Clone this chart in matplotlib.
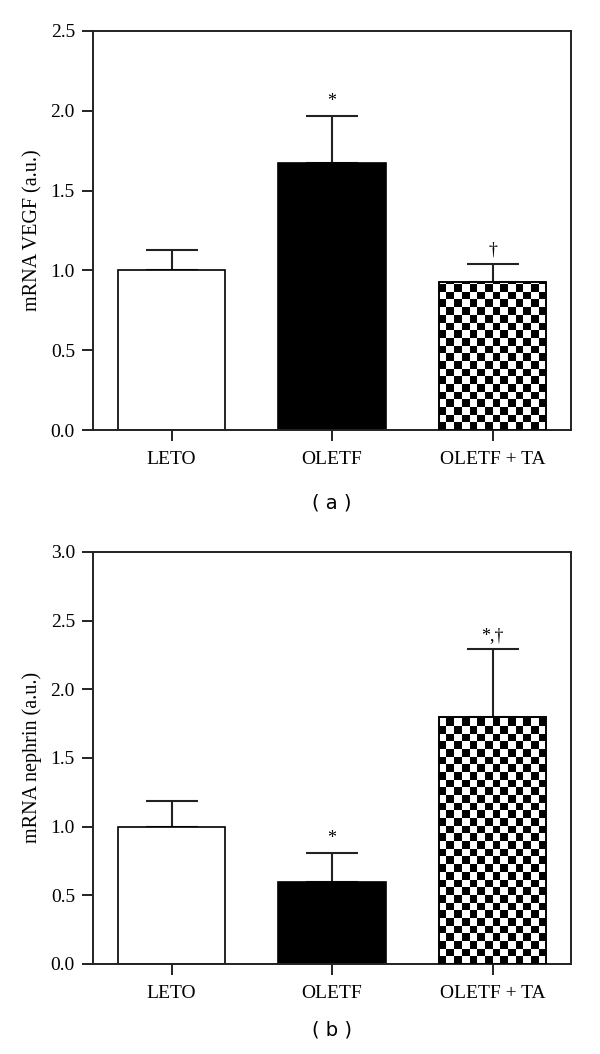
import numpy as np
import matplotlib
matplotlib.use("Agg")
import matplotlib.pyplot as plt
from matplotlib.patches import Rectangle
from matplotlib.collections import PatchCollection

plt.rcParams["font.family"] = ["Liberation Serif", "DejaVu Serif"]

groups = ["LETO", "OLETF", "OLETF + TA"]

vegf_mean = [1.00, 1.67, 0.93]
vegf_err = [0.13, 0.30, 0.11]
vegf_marks = ["", "*", "\u2020"]

nephrin_mean = [1.00, 0.60, 1.80]
nephrin_err = [0.19, 0.21, 0.49]
nephrin_marks = ["", "*", "*,\u2020"]


def checker_fill(ax, bar, ymax, n_cols=14):
    # black squares in a checkerboard, clipped to the bar outline
    x0, w, h = bar.get_x(), bar.get_width(), bar.get_height()
    sq_x = w / n_cols
    sq_px = w / (ax.get_xlim()[1] - ax.get_xlim()[0]) * ax.bbox.width / n_cols
    sq_y = sq_px / ax.bbox.height * ymax
    n_rows = int(np.ceil(h / sq_y))
    rects = []
    for r in range(n_rows):
        for c in range(n_cols):
            if (r + c) % 2 == 0:
                rects.append(Rectangle((x0 + c * sq_x, r * sq_y), sq_x, sq_y))
    pc = PatchCollection(rects, facecolor="black", edgecolor="none",
                         antialiased=False, zorder=2.5)
    ax.add_collection(pc)
    pc.set_clip_path(bar)


def draw_panel(ax, means, errs, marks, ylabel, ymax, yticks, tag, tag_off):
    x = np.arange(len(groups))
    width = 0.67
    ax.set_xlim(-0.49, 2.49)
    ax.set_ylim(0, ymax)
    bars = ax.bar(x, means, width=width, color=["white", "black", "white"],
                  edgecolor="black", linewidth=1.2, zorder=2)
    checker_fill(ax, bars[2], ymax)
    ax.bar(x[2], means[2], width=width, color="none", edgecolor="black",
           linewidth=1.2, zorder=3)

    ax.errorbar(x, means, yerr=[np.zeros(len(errs)), errs], fmt="none",
                ecolor="#222222", elinewidth=1.5, capsize=19, capthick=1.5, zorder=1)

    for xi, m, e, s in zip(x, means, errs, marks):
        if s:
            ax.text(xi, m + e + 0.035 * ymax / 2.5, s, ha="center", va="bottom",
                    fontsize=13)

    ax.set_yticks(yticks)
    ax.set_yticklabels([f"{t:.1f}" for t in yticks])
    ax.set_xticks(x)
    ax.set_xticklabels(groups)
    ax.tick_params(axis="both", direction="out", length=8, width=1.4, pad=5,
                   labelsize=14, colors="#222222", labelcolor="black")
    ax.tick_params(axis="x", pad=7)
    ax.set_ylabel(ylabel, fontsize=14.5, labelpad=6)
    for sp in ax.spines.values():
        sp.set_linewidth(1.4)
        sp.set_color("#222222")
    ax.annotate(tag, xy=(0.5, 0), xycoords="axes fraction",
                xytext=(0, -tag_off), textcoords="offset pixels",
                ha="center", va="center", fontsize=14, family=["DejaVu Sans"])


fig = plt.figure(figsize=(6.0, 10.54), dpi=100)
ax_a = fig.add_axes([0.155, 0.592, 0.797, 0.3786])
ax_b = fig.add_axes([0.155, 0.0854, 0.797, 0.391])

draw_panel(ax_a, vegf_mean, vegf_err, vegf_marks, "mRNA VEGF (a.u.)", 2.5,
           [0.0, 0.5, 1.0, 1.5, 2.0, 2.5], "( a )", 73)
draw_panel(ax_b, nephrin_mean, nephrin_err, nephrin_marks, "mRNA nephrin (a.u.)", 3.0,
           [0.0, 0.5, 1.0, 1.5, 2.0, 2.5, 3.0], "( b )", 66)

fig.savefig("out.png", dpi=100)
